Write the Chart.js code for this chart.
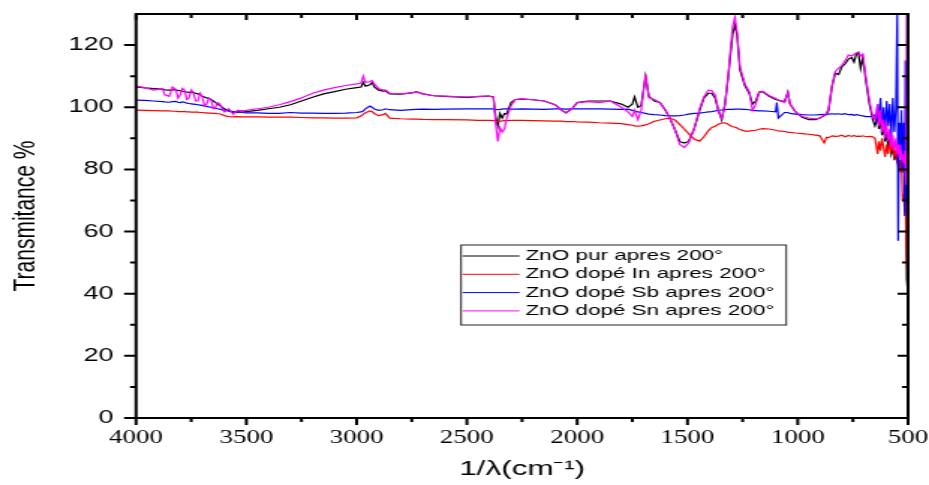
<!DOCTYPE html>
<html>
<head>
<meta charset="utf-8">
<script src="https://cdn.jsdelivr.net/npm/chart.js@4.4.1/dist/chart.umd.min.js"></script>
<style>
  html, body { margin: 0; padding: 0; background: #fff; }
  #chart { display: block; }
</style>
</head>
<body>
<!-- drawn narrow then stretched sideways, like the original export -->
<canvas id="chart" width="620" height="485" style="width:929px;height:485px"></canvas>
<script>
// wavenumber (cm-1)
const wavenumbers = [
  4000, 3960, 3920,
  3880, 3870, 3850, 3835, 3820, 3810, 3800, 3790, 3780, 3770, 3760, 3750, 3740, 3730, 3720, 3710,
  3700, 3690, 3680, 3670, 3660, 3650, 3640, 3630, 3620,
  3600, 3580, 3560, 3540, 3520, 3500, 3450, 3400, 3350, 3300, 3250, 3200, 3150, 3100, 3050, 3000,
  2980, 2970, 2960, 2940, 2930, 2920, 2900, 2880, 2870, 2850, 2800, 2750, 2730, 2700, 2650, 2600,
  2500, 2450, 2400, 2380, 2370, 2360, 2350, 2340, 2330, 2320, 2300, 2280, 2250, 2200, 2150, 2100,
  2070, 2050, 2020, 2000, 1950, 1900, 1850, 1800, 1770, 1750, 1740, 1725, 1710, 1690, 1675, 1650,
  1625, 1600, 1580, 1555, 1535, 1515, 1495, 1470, 1445, 1425, 1405, 1390, 1375, 1360, 1345, 1330,
  1315, 1305, 1295, 1285, 1275, 1262, 1240, 1220, 1205, 1190, 1175, 1160, 1130, 1100, 1095, 1088,
  1060, 1045, 1035, 1010, 980, 950, 920, 900, 880, 870, 860, 845, 830, 815, 800, 785,
  770, 755, 745, 735, 725, 715, 705, 690, 675, 660, 650, 645, 638, 632, 625, 618,
  611, 604, 597, 590, 583, 576, 569, 562, 555, 549, 545, 540, 535, 530, 525, 520,
  515, 512, 508, 506, 504, 502
];

const pureZnO = [
  106.5, 106.2, 106.0,
  105.8, 105.6, 105.5, 105.6, 105.6, 105.4, 105.3, 105.1, 105.0, 104.9, 104.8, 104.8, 104.7, 104.5, 104.3, 104.0,
  103.5, 103.3, 103.0, 102.8, 102.5, 102.0, 101.5, 101.0, 100.5,
  99.5, 98.8, 98.3, 98.5, 98.8, 98.6, 99.0, 99.5, 100.0, 100.8, 102.0, 103.2, 104.3, 105.0, 105.8, 106.3,
  106.5, 108.0, 106.8, 107.2, 108.0, 106.5, 105.5, 105.2, 105.3, 104.3, 104.2, 104.6, 105.0, 104.3, 103.7, 103.5,
  103.2, 103.4, 103.6, 103.3, 97.0, 94.0, 98.0, 96.5, 98.0, 97.8, 101.5, 102.5, 102.6, 102.4, 102.0, 100.8,
  99.0, 98.2, 99.8, 101.5, 102.0, 102.0, 102.0, 101.0, 100.0, 101.0, 103.3, 100.0, 100.5, 110.0, 103.5, 102.0,
  101.5, 99.0, 96.5, 92.5, 89.0, 88.5, 89.0, 93.0, 99.0, 103.0, 104.5, 104.5, 103.0, 99.0, 96.0, 101.0,
  110.0, 117.0, 123.5, 126.5, 123.0, 112.0, 107.0, 104.5, 101.0, 102.0, 104.8, 105.0, 103.5, 102.5, 102.4, 102.2,
  101.8, 104.8, 101.0, 98.5, 96.8, 96.0, 96.0, 96.5, 97.3, 97.8, 99.0, 106.5, 111.0, 110.5, 113.0, 114.0,
  115.5, 116.0, 114.5, 117.0, 117.5, 112.5, 116.0, 108.0, 101.0, 96.0, 94.0, 95, 98, 93, 96, 91,
  94, 89, 92, 87, 90, 85, 87, 83, 86, 82, 84, 81, 83, 80, 82, 79,
  81, 78, 70, 45, 42, 60
];

const inDoped = [
  99.1, 99.0, 98.9,
  98.8, 98.8, 98.8, 98.7, 98.7, 98.6, 98.6, 98.6, 98.6, 98.5, 98.5, 98.4, 98.4, 98.4, 98.4, 98.3,
  98.3, 98.2, 98.2, 98.1, 98.1, 98.0, 98.0, 97.9, 97.9,
  97.3, 97.0, 96.9, 97.0, 96.9, 96.9, 96.9, 96.8, 96.8, 96.8, 96.7, 96.6, 96.6, 96.5, 96.5, 96.6,
  97.2, 97.8, 98.2, 98.8, 98.6, 98.0, 97.3, 97.6, 98.0, 96.5, 96.3, 96.2, 96.2, 96.1, 96.0, 96.0,
  95.9, 95.8, 95.8, 95.7, 95.5, 95.3, 95.5, 95.6, 95.7, 95.7, 95.8, 95.8, 95.8, 95.7, 95.6, 95.5,
  95.5, 95.4, 95.4, 95.3, 95.2, 95.0, 94.9, 94.7, 94.4, 94.2, 94.0, 93.9, 94.0, 94.3, 94.7, 95.5,
  95.9, 96.3, 96.5, 95.8, 94.5, 93.0, 91.5, 89.8, 89.1, 90.5, 92.5, 93.5, 93.9, 94.5, 94.9, 95.0,
  94.5, 94.0, 93.7, 93.6, 93.3, 92.8, 92.3, 92.3, 92.5, 92.6, 92.9, 93.1, 93.0, 92.6, 92.5, 92.4,
  92.2, 92.0, 91.9, 91.7, 91.5, 91.3, 91.0, 90.8, 88.5, 90.3, 90.2, 90.8, 90.6, 90.7, 91.0, 90.5,
  90.9, 90.6, 90.9, 90.6, 90.7, 90.6, 90.8, 90.5, 90.6, 90.5, 90.0, 88, 85, 89, 86, 90,
  87, 84, 88, 85, 89, 86, 88, 84, 86, 83, 81, 83, 79, 82, 70, 72,
  66, 71, 55, 50, 52, 48
];

const sbDoped = [
  102.3, 102.2, 102.0,
  101.8, 101.7, 101.6, 101.8, 101.9, 101.6, 101.5, 101.7, 101.6, 101.3, 101.2, 101.1, 101.0, 100.9, 100.8, 100.7,
  100.6, 100.4, 100.3, 100.1, 100.0, 99.8, 99.7, 99.5, 99.4,
  99.0, 98.8, 98.6, 98.4, 98.3, 98.2, 98.2, 98.0, 98.0, 98.3, 98.1, 98.1, 98.0, 98.0, 98.1, 98.3,
  98.5, 98.8, 99.5, 100.4, 100.0, 99.4, 99.0, 99.2, 99.5, 99.2, 99.0, 99.2, 99.3, 99.4, 99.3, 99.4,
  99.5, 99.5, 99.5, 99.5, 99.3, 99.2, 99.3, 99.4, 99.5, 99.5, 99.4, 99.4, 99.5, 99.4, 99.3, 99.5,
  99.5, 99.4, 99.5, 99.5, 99.5, 99.5, 99.4, 99.3, 99.4, 99.0, 98.8, 98.5, 98.3, 98.0, 97.8, 97.6,
  97.5, 97.3, 97.2, 97.2, 97.3, 97.5, 97.8, 98.0, 98.1, 98.3, 98.5, 98.6, 98.8, 99.0, 99.1, 99.2,
  99.3, 99.3, 99.3, 99.4, 99.4, 99.4, 99.3, 99.2, 99.0, 98.9, 98.8, 98.8, 98.7, 98.5, 101.5, 96.5,
  98.3, 98.3, 98.0, 97.8, 97.6, 97.5, 97.5, 97.6, 97.7, 97.6, 97.8, 97.9, 97.8, 97.9, 97.7, 97.9,
  97.6, 97.7, 97.4, 97.6, 97.5, 97.3, 97.2, 97.0, 97.0, 97.1, 97.5, 96, 101, 95, 103, 94,
  100, 92, 102, 94, 101, 90, 103, 92, 100, 131, 57, 95, 86, 99, 80, 95,
  65, 115, 70, 95, 62, 80
];

const snDoped = [
  106.8, 106.3, 105.5,
  106.0, 104.0, 103.5, 106.5, 105.8, 103.0, 104.0, 106.0, 105.5, 102.5, 103.0, 105.5, 104.8, 102.0, 102.0, 104.5,
  103.5, 100.5, 101.0, 103.0, 102.5, 99.5, 100.0, 101.5, 101.0,
  98.5, 99.5, 97.8, 99.0, 98.5, 99.0, 99.5, 100.0, 100.8, 101.8, 103.0, 104.5, 105.5, 106.3, 107.0, 107.5,
  107.8, 110.0, 108.0, 108.2, 108.6, 107.5, 106.0, 105.5, 105.6, 104.5, 104.3, 104.6, 105.0, 104.3, 103.7, 103.6,
  103.3, 103.5, 103.6, 103.2, 95.0, 89.0, 93.5, 92.0, 93.0, 96.5, 100.5, 102.5, 102.7, 102.4, 102.0, 100.8,
  99.0, 98.2, 99.8, 101.5, 101.8, 101.5, 102.0, 100.0, 98.5, 97.0, 99.0, 96.0, 99.0, 110.5, 103.0, 102.5,
  101.5, 99.0, 96.5, 92.5, 88.0, 87.0, 88.5, 93.0, 99.5, 103.5, 105.5, 105.3, 104.0, 99.0, 96.5, 101.0,
  110.0, 118.5, 126.0, 129.0, 124.0, 113.0, 107.5, 105.0, 99.0, 101.0, 105.0, 105.2, 103.8, 102.8, 102.6, 102.3,
  101.5, 104.8, 101.0, 98.5, 97.0, 96.5, 96.3, 96.5, 97.5, 98.0, 99.5, 107.0, 111.5, 112.5, 113.5, 115.0,
  116.8, 116.5, 117.0, 117.5, 117.8, 116.5, 117.0, 109.0, 102.0, 97.0, 96.0, 98, 101, 94, 99, 92,
  96, 90, 95, 89, 93, 87, 91, 86, 90, 85, 88, 84, 88, 83, 85, 82,
  86, 80, 75, 131, 70, 131
];

const seriesNames = [
  'ZnO pur apres 200°',
  'ZnO dopé In apres 200°',
  'ZnO dopé Sb apres 200°',
  'ZnO dopé Sn apres 200°'
];

const xTicks = [4000, 3500, 3000, 2500, 2000, 1500, 1000, 500];
const xMinorTicks = [3750, 3250, 2750, 2250, 1750, 1250, 750];
const yTicks = [0, 20, 40, 60, 80, 100, 120];
const yMinorTicks = [10, 30, 50, 70, 90, 110];

const toPoints = vals => vals.map((v, i) => ({ x: wavenumbers[i], y: v }));

// ticks on all four sides: outside on left/bottom, inside on top/right
const framePlugin = {
  id: 'frame',
  afterDatasetsDraw(chart) {
    const { ctx, chartArea: a, scales } = chart;
    const x = scales.x, y = scales.y;
    ctx.save();
    ctx.strokeStyle = '#000';
    ctx.lineWidth = 2;
    ctx.strokeRect(a.left, a.top, a.right - a.left, a.bottom - a.top);

    ctx.beginPath();
    xTicks.forEach(v => {
      const px = x.getPixelForValue(v);
      ctx.moveTo(px, a.bottom); ctx.lineTo(px, a.bottom + 7);
      ctx.moveTo(px, a.top); ctx.lineTo(px, a.top + 6);
    });
    xMinorTicks.forEach(v => {
      const px = x.getPixelForValue(v);
      ctx.moveTo(px, a.bottom); ctx.lineTo(px, a.bottom + 4);
      ctx.moveTo(px, a.top); ctx.lineTo(px, a.top + 4);
    });
    yTicks.forEach(v => {
      const py = y.getPixelForValue(v);
      ctx.moveTo(a.left, py); ctx.lineTo(a.left - 8, py);
      ctx.moveTo(a.right, py); ctx.lineTo(a.right - 7, py);
    });
    yMinorTicks.forEach(v => {
      const py = y.getPixelForValue(v);
      ctx.moveTo(a.left, py); ctx.lineTo(a.left - 4, py);
      ctx.moveTo(a.right, py); ctx.lineTo(a.right - 4, py);
    });
    ctx.stroke();

    // legend box
    const bx = 307.7, by = 245, bw = 217, bh = 80;
    ctx.fillStyle = '#fff';
    ctx.fillRect(bx, by, bw, bh);
    ctx.lineWidth = 1;
    ctx.strokeStyle = '#222';
    ctx.strokeRect(bx, by, bw, bh);
    ctx.font = '15px "Liberation Sans", Arial, sans-serif';
    ctx.textBaseline = 'middle';
    chart.data.datasets.forEach((ds, i) => {
      const ly = by + 11 + i * 18.3;
      ctx.strokeStyle = ds.borderColor;
      ctx.lineWidth = 1;
      ctx.beginPath();
      ctx.moveTo(bx + 1, ly);
      ctx.lineTo(bx + 39, ly);
      ctx.stroke();
      ctx.fillStyle = '#000';
      ctx.fillText(ds.label, bx + 43, ly);
    });
    ctx.restore();
  }
};

const ctx = document.getElementById('chart').getContext('2d');
new Chart(ctx, {
  type: 'line',
  data: {
    datasets: [
      { label: seriesNames[0], data: toPoints(pureZnO), borderColor: '#000000', order: 4 },
      { label: seriesNames[1], data: toPoints(inDoped), borderColor: '#ff0000', order: 3 },
      { label: seriesNames[2], data: toPoints(sbDoped), borderColor: '#0000ff', order: 2 },
      { label: seriesNames[3], data: toPoints(snDoped), borderColor: '#ff00ff', order: 1 }
    ]
  },
  options: {
    responsive: false,
    animation: false,
    events: [],
    layout: { padding: { top: 14, right: 14, left: 0, bottom: 0 } },
    elements: {
      line: { borderWidth: 1.2, tension: 0 },
      point: { radius: 0 }
    },
    plugins: {
      legend: { display: false },
      tooltip: { enabled: false }
    },
    scales: {
      x: {
        type: 'linear',
        min: 500,
        max: 4000,
        reverse: true,
        afterFit: s => { s.height = 67; s.paddingLeft = 0; s.paddingRight = 0; },
        afterBuildTicks: s => { s.ticks = xTicks.map(v => ({ value: v })); },
        grid: { display: false, drawTicks: false },
        border: { display: false },
        ticks: {
          color: '#000',
          padding: 9,
          maxRotation: 0,
          callback: v => String(v),
          font: { family: '"Liberation Serif", "Times New Roman", serif', size: 18 }
        },
        title: {
          display: true,
          text: '1/λ(cm⁻¹)',
          color: '#000',
          padding: { top: 2, bottom: 3 },
          font: { family: '"Liberation Sans", Arial, sans-serif', size: 21 }
        }
      },
      y: {
        min: 0,
        max: 130,
        afterFit: s => { s.width = 90.8; s.paddingTop = 0; s.paddingBottom = 0; },
        afterBuildTicks: s => { s.ticks = yTicks.map(v => ({ value: v })); },
        grid: { display: false, drawTicks: false },
        border: { display: false },
        ticks: {
          color: '#000',
          padding: 15,
          font: { family: '"Liberation Sans", Arial, sans-serif', size: 18 }
        },
        title: {
          display: true,
          text: 'Transmitance %',
          color: '#000',
          padding: { top: 5, bottom: 0 },
          font: { family: '"Liberation Sans", Arial, sans-serif', size: 21 }
        }
      }
    }
  },
  plugins: [framePlugin]
});
</script>
</body>
</html>
